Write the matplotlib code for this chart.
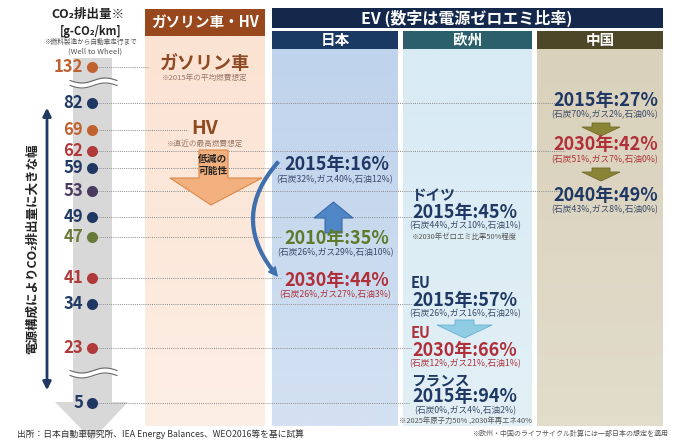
import numpy as np
import matplotlib.pyplot as plt
import matplotlib.patches as mpatches

plt.rcParams['font.family'] = ['Noto Sans CJK JP', 'DejaVu Sans']

# data
# ---

levels = [132, 82, 69, 62, 59, 53, 49, 47, 41, 34, 23, 5]
level_colors = ['#c0622f', '#1f3864', '#c0622f', '#b03a3a', '#1f3864', '#4b3a60',
                '#1f3864', '#687a38', '#b03a3a', '#1f3864', '#b03a3a', '#1f3864']

# layout: row of each level and how far its dotted guide runs
level_y = [67, 103, 130, 151, 168, 191, 217, 237, 278, 304, 348, 403]
guide_end = [148, 562, 188, 565, 282, 565, 412, 282, 282, 412, 412, 410]

navy = '#1f3864'
red = '#b0303a'
olive = '#5e7a2a'

japan_labels = ['2015年:16%', '2010年:35%', '2030年:44%']
japan_mix = ['(石炭32%,ガス40%,石油12%)', '(石炭26%,ガス29%,石油10%)', '(石炭26%,ガス27%,石油3%)']
japan_colors = [navy, olive, red]
japan_y = [165, 238, 280]

europe_names = ['ドイツ', 'EU', 'EU', 'フランス']
europe_labels = ['2015年:45%', '2015年:57%', '2030年:66%', '2015年:94%']
europe_mix = ['(石炭44%,ガス10%,石油1%)', '(石炭26%,ガス16%,石油2%)',
              '(石炭12%,ガス21%,石油1%)', '(石炭0%,ガス4%,石油2%)']
europe_notes = ['※2030年ゼロエミ比率50%程度', '', '', '※2025年原子力50% ,2030年再エネ40%']
europe_colors = [navy, navy, red, navy]
europe_y = [212, 300, 350, 397]

china_labels = ['2015年:27%', '2030年:42%', '2040年:49%']
china_mix = ['(石炭70%,ガス2%,石油0%)', '(石炭51%,ガス7%,石油0%)', '(石炭43%,ガス8%,石油0%)']
china_colors = [navy, red, navy]
china_y = [100, 145, 195]


fig = plt.figure(figsize=(6.9, 4.43), dpi=100)
ax = fig.add_axes([0, 0, 1, 1])
ax.set_xlim(0, 690)
ax.set_ylim(443, 0)
ax.axis('off')


def box(x0, y0, x1, y1, color, z=1):
    ax.add_patch(mpatches.Rectangle((x0, y0), x1 - x0, y1 - y0, color=color, lw=0, zorder=z))


def vgrad(x0, y0, x1, y1, top, bottom):
    # vertical colour fade for a panel body
    g = np.linspace(0, 1, 64)[:, None]
    c0 = np.array(plt.matplotlib.colors.to_rgb(top))
    c1 = np.array(plt.matplotlib.colors.to_rgb(bottom))
    img = (c0 * (1 - g) + c1 * g)[:, None, :]
    ax.imshow(img, extent=(x0, x1, y1, y0), aspect='auto', zorder=1, interpolation='bilinear')


# column panels
# ---
box(145, 9, 265, 36, '#98481c')
vgrad(145, 36, 265, 426, '#fbe3d3', '#fdeee4')
ax.text(205, 22, 'ガソリン車・HV', color='white', fontsize=10.5, fontweight='bold',
        ha='center', va='center', zorder=4)

box(272, 8, 663, 28, '#14284b')
ax.text(467, 18, 'EV (数字は電源ゼロエミ比率)', color='white', fontsize=11.5, fontweight='bold',
        ha='center', va='center', zorder=4)

cols = [(272, 398, '#1b3a63', '#bfd3ec', '#d3e1f2', '日本'),
        (403, 532, '#2b5f6b', '#d8eaf3', '#e2f0f6', '欧州'),
        (537, 663, '#4d4728', '#d9d1bb', '#e2dccb', '中国')]
for x0, x1, hc, bt, bb, name in cols:
    box(x0, 31, x1, 49, hc)
    vgrad(x0, 49, x1, 426, bt, bb)
    ax.text((x0 + x1) / 2, 40, name, color='white', fontsize=10.5, fontweight='bold',
            ha='center', va='center', zorder=4)

# left gray arrow
# ---
ax.add_patch(mpatches.Polygon([(73, 58), (112, 58), (112, 402), (128, 402), (92, 440),
                               (55, 402), (73, 402)], closed=True, color='#d8d8d8', lw=0, zorder=1))

# break marks
xs = np.linspace(70, 117, 60)
for yb in [83, 373]:
    w = 2.5 * np.sin((xs - 70) / 47 * 2 * np.pi)
    ax.fill_between(xs, yb - 2 + w, yb + 2 + w, color='white', zorder=3)
    ax.plot(xs, yb - 2.5 + w, color='#666666', lw=0.8, zorder=3)
    ax.plot(xs, yb + 2.5 + w, color='#666666', lw=0.8, zorder=3)

# header of axis
ax.text(88, 14, 'CO₂排出量※', color='#222222', fontsize=9, fontweight='bold', ha='center', va='center')
ax.text(91, 31, '[g-CO₂/km]', color='#222222', fontsize=8, fontweight='bold', ha='center', va='center')
ax.text(90, 42, '※燃料製造から自動車走行まで', color='#555555', fontsize=4.8, ha='center', va='center')
ax.text(95, 52, '(Well to Wheel)', color='#555555', fontsize=5.5, ha='center', va='center')

# levels, dots and guides
# ---
for v, c, y, xe in zip(levels, level_colors, level_y, guide_end):
    ax.plot([98, xe], [y, y], color='#8c8c8c', lw=0.7, ls=(0, (1, 1.2)), zorder=2)
    ax.scatter(92, y, s=48, color=c, zorder=5)
    ax.text(83, y, str(v), color=c, fontsize=12, fontweight='bold', ha='right', va='center', zorder=5)

# double arrow
ax.annotate('', xy=(47, 105), xytext=(47, 393),
            arrowprops=dict(arrowstyle='<|-|>', color=navy, lw=2, mutation_scale=12))
ax.text(32, 249, '電源構成によりCO₂排出量に大きな幅', color='#222222', fontsize=9, fontweight='bold',
        rotation=90, ha='center', va='center')

# gasoline / HV
# ---
ax.text(205, 63, 'ガソリン車', color='#8e4a22', fontsize=13, fontweight='bold', ha='center', va='center', zorder=4)
ax.text(205, 78, '※2015年の平均燃費想定', color='#9a7766', fontsize=5.5, ha='center', va='center', zorder=4)
ax.text(205, 128, 'HV', color='#8e4a22', fontsize=14, fontweight='bold', ha='center', va='center', zorder=4)
ax.text(205, 144, '※直近の最高燃費想定', color='#9a7766', fontsize=5.5, ha='center', va='center', zorder=4)
ax.add_patch(mpatches.Polygon([(199, 150), (228, 150), (228, 178), (262, 178), (211, 205),
                               (170, 178), (199, 178)], closed=True, fc='#f2b07e', ec='#d88a4a',
                              lw=0.8, zorder=3))
ax.text(213, 159, '低減の', color='#222222', fontsize=7, fontweight='bold', ha='center', va='center', zorder=4)
ax.text(213, 171, '可能性', color='#222222', fontsize=7, fontweight='bold', ha='center', va='center', zorder=4)

# Japan
# ---
for lab, mix, c, y in zip(japan_labels, japan_mix, japan_colors, japan_y):
    ax.text(337, y, lab, color=c, fontsize=13, fontweight='bold', ha='center', va='center', zorder=4)
    ax.text(335, y + 15, mix, color=c if c == red else '#3a4a6a', fontsize=6.3, ha='center',
            va='center', zorder=4)

ax.add_patch(mpatches.Polygon([(325, 233), (342, 233), (342, 218), (353, 218), (333.5, 202),
                               (314, 218), (325, 218)], closed=True, fc='#4f86c6', ec='#3a6aa5',
                              lw=0.8, zorder=3))
ax.add_patch(mpatches.FancyArrowPatch((280, 160), (279, 278), connectionstyle='arc3,rad=0.45',
                                      arrowstyle='simple,head_width=6,head_length=6,tail_width=2',
                                      color='#3f70ad', zorder=4))

# Europe
# ---
for nm, lab, mix, note, c, y in zip(europe_names, europe_labels, europe_mix, europe_notes,
                                     europe_colors, europe_y):
    ax.text(411, y - 17, nm, color=c, fontsize=10.5, fontweight='bold', ha='left', va='center', zorder=4)
    ax.text(465, y, lab, color=c, fontsize=13, fontweight='bold', ha='center', va='center', zorder=4)
    ax.text(465, y + 14, mix, color=c if c == red else '#3a4a6a', fontsize=6.3, ha='center',
            va='center', zorder=4)
    if note:
        ax.text(465, y + 25, note, color='#555555', fontsize=5.3, ha='center', va='center', zorder=4)

ax.add_patch(mpatches.Polygon([(455, 320), (474, 320), (474, 325), (492, 325), (464.5, 338),
                               (437, 325), (455, 325)], closed=True, fc='#8fcde4', ec='#6aaed0',
                              lw=0.6, zorder=3))

# China
# ---
for lab, mix, c, y in zip(china_labels, china_mix, china_colors, china_y):
    ax.text(606, y, lab, color=c, fontsize=13, fontweight='bold', ha='center', va='center', zorder=4)
    ax.text(605, y + 15, mix, color=c if c == red else '#3a4a6a', fontsize=6.3, ha='center',
            va='center', zorder=4)

for y0 in [123, 168]:
    ax.add_patch(mpatches.Polygon([(592, y0), (610, y0), (610, y0 + 4), (620, y0 + 4), (601, y0 + 13),
                                   (582, y0 + 4), (592, y0 + 4)], closed=True, fc='#8a8436',
                                  ec='#6f6a2a', lw=0.6, zorder=3))

# footer
# ---
ax.text(17, 434, '出所：日本自動車研究所、IEA Energy Balances、WEO2016等を基に試算', color='#333333',
        fontsize=6.3, ha='left', va='center')
ax.text(668, 434, '※欧州・中国のライフサイクル計算には一部日本の想定を適用', color='#555555',
        fontsize=5, ha='right', va='center')

ax.set_xlim(0, 690)
ax.set_ylim(443, 0)
plt.savefig('out.png', dpi=100)
plt.close()
